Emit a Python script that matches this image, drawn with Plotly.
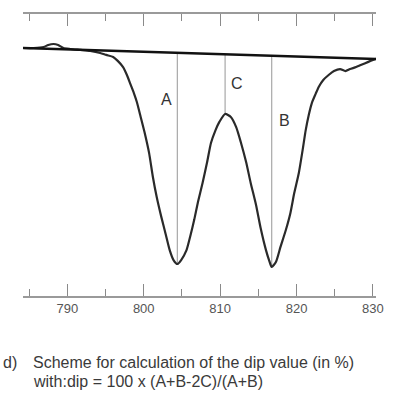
import numpy as np
import plotly.graph_objects as go

# Spectrum (wavelength in nm, relative signal)
wavelength = [784.2, 785.6, 786.9, 787.5, 788.2, 788.8, 789.5, 790.4, 791.7, 793.0,
              794.3, 795.1, 796.0, 796.6, 797.3, 797.8, 798.3, 798.7, 799.1, 799.6,
              800.1, 800.7, 801.2, 801.7, 802.3, 802.9, 803.4, 803.9, 804.4, 804.9,
              805.6, 806.1, 806.6, 807.1, 807.7, 808.3, 808.8, 809.4, 809.9, 810.65,
              811.4, 812.1, 812.7, 813.4, 814.0, 814.7, 815.3, 816.0, 816.4, 816.75,
              817.3, 817.9, 818.6, 819.2, 819.7, 820.3, 820.8, 821.2, 821.6, 822.0,
              822.5, 822.9, 823.5, 824.2, 824.9, 825.7, 826.4, 827.0, 827.8, 828.4,
              829.4, 830.4]
signal = [100.0, 100.0, 100.4, 101.2, 101.6, 101.2, 100.0, 99.6, 99.2, 98.8,
          98.0, 97.2, 96.4, 94.8, 92.3, 89.1, 85.1, 81.9, 78.2, 72.2,
          66.1, 57.7, 48.0, 39.9, 31.9, 24.6, 18.5, 14.5, 12.9, 14.5,
          18.5, 24.2, 30.6, 37.9, 45.6, 54.0, 61.7, 66.9, 70.2, 73.4,
          72.2, 68.1, 62.1, 54.0, 45.6, 36.7, 27.4, 18.5, 14.5, 11.7,
          13.7, 19.8, 26.6, 33.5, 41.5, 49.6, 58.9, 66.9, 73.0, 77.8,
          81.5, 84.3, 87.1, 89.1, 90.7, 91.5, 90.7, 91.5, 92.3, 93.1,
          94.4, 95.6]

# Baseline drawn across the band
baseline_x = [784.2, 830.4]
baseline_y = [100.0, 95.6]

# Positions of A (left minimum), C (central maximum), B (right minimum)
marker_names = ["A", "C", "B"]
marker_x = [804.4, 810.65, 816.75]
label_x = [803.0, 812.2, 818.45]
label_y = [79.4, 85.5, 70.6]

major_ticks = [790, 800, 810, 820, 830]
major_labels = ["790", "800", "810", "820", "830"]
minor_ticks = [785, 795, 805, 815, 825]

caption_lines = ["Scheme for calculation of the dip value (in %)",
                 "with:dip = 100 x (A+B-2C)/(A+B)"]

FONT = "Liberation Sans, Arial"

fig = go.Figure()

# Vertical measurement lines
bx = np.array(baseline_x)
by = np.array(baseline_y)
for mx in marker_x:
    top = float(np.interp(mx, bx, by))
    bottom = float(np.interp(mx, wavelength, signal))
    fig.add_trace(go.Scatter(x=[mx, mx], y=[top, bottom], mode="lines",
                             line=dict(color="#a8a8a8", width=1.2),
                             hoverinfo="skip", showlegend=False))

fig.add_trace(go.Scatter(x=wavelength, y=signal, mode="lines",
                         line=dict(color="#2a2a2a", width=2.2, shape="spline", smoothing=0.6),
                         showlegend=False))
fig.add_trace(go.Scatter(x=baseline_x, y=baseline_y, mode="lines",
                         line=dict(color="#111111", width=2.5),
                         showlegend=False))

for name, lx, ly in zip(marker_names, label_x, label_y):
    fig.add_annotation(x=lx, y=ly, text=name, showarrow=False,
                       font=dict(size=16, color="#333333", family=FONT))

# Invisible trace to activate top axis
fig.add_trace(go.Scatter(x=baseline_x, y=baseline_y, xaxis="x2", mode="lines",
                         line=dict(width=0), hoverinfo="skip", showlegend=False))

axis_common = dict(range=[784.2, 830.4], showgrid=False, zeroline=False,
                   showline=True, linecolor="#9a9a9a", linewidth=1.5,
                   ticks="inside", tickcolor="#8a8a8a", tickwidth=1.2, ticklen=12,
                   tickvals=major_ticks,
                   minor=dict(tickvals=minor_ticks, ticks="inside",
                              ticklen=7, tickcolor="#8a8a8a", tickwidth=1.2))

fig.update_layout(
    width=396, height=409,
    margin=dict(l=23, r=18, t=14, b=113),
    paper_bgcolor="white", plot_bgcolor="white",
    xaxis=dict(**axis_common, ticktext=major_labels, showticklabels=True,
               tickfont=dict(size=13, color="#555555", family=FONT)),
    xaxis2=dict(**axis_common, overlaying="x", side="top", showticklabels=False),
    yaxis=dict(visible=False, range=[0, 113.7]),
)

def px_x(px):
    return (px - 23) / 355

def px_y(py):
    return (296 - py) / 282

cap_font = dict(size=16, color="#3a3a3a", family=FONT)
fig.add_annotation(xref="paper", yref="paper", x=px_x(2), y=px_y(362),
                   xanchor="left", yanchor="middle", text="d)", showarrow=False,
                   font=cap_font, borderpad=0)
for text, py in zip(caption_lines, [362, 381]):
    fig.add_annotation(xref="paper", yref="paper", x=px_x(32), y=px_y(py),
                       xanchor="left", yanchor="middle", align="left", showarrow=False,
                       text=text, font=cap_font, borderpad=0)

fig.write_html("out.html")
